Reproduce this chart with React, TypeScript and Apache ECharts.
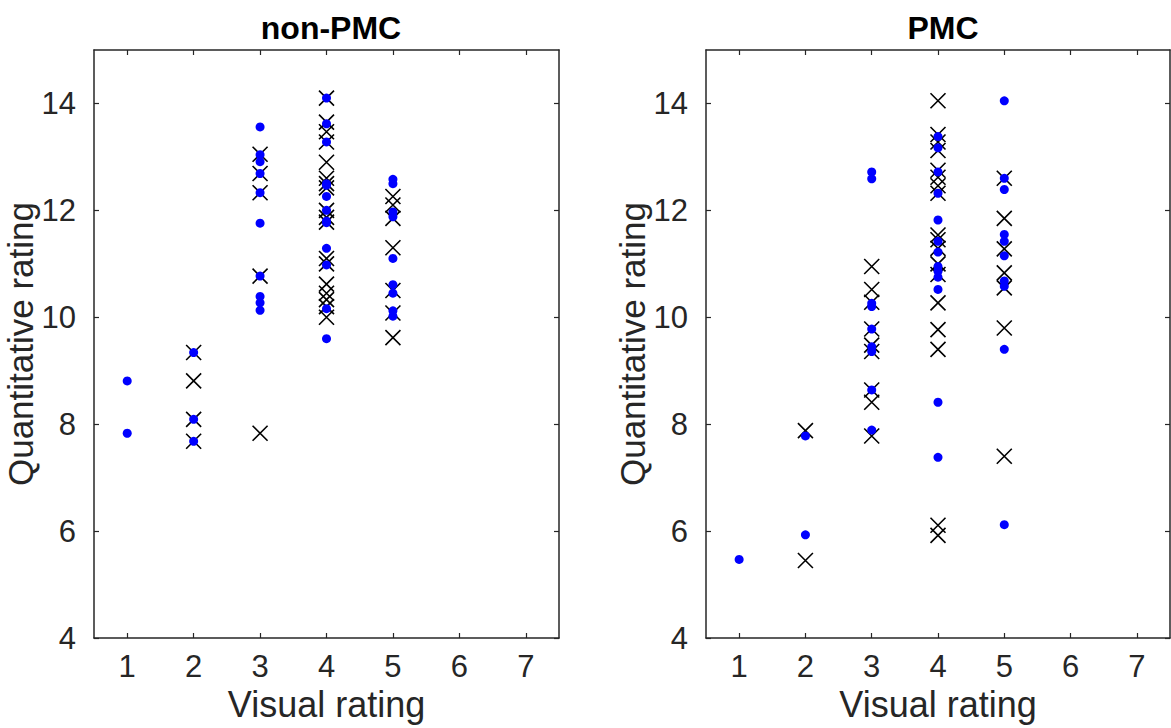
import React, { useEffect, useRef } from "react";
import * as echarts from "echarts";

// Visual rating categories and tick labels
const xTicks = [1, 2, 3, 4, 5, 6, 7];
const yTicks = [4, 6, 8, 10, 12, 14];

// non-PMC: blue dots per visual rating
const npDot1 = [8.81, 7.83];
const npDot2 = [9.34, 8.09, 7.68];
const npDot3 = [13.56, 13.04, 12.91, 12.69, 12.33, 11.76, 10.77, 10.39, 10.27, 10.13];
const npDot4 = [14.1, 13.62, 13.28, 12.5, 12.47, 12.26, 12.0, 11.8, 11.77, 11.29, 10.98, 10.16, 9.6];
const npDot5 = [12.58, 12.5, 11.97, 11.88, 11.1, 10.61, 10.45, 10.12, 10.02];
// non-PMC: crosses per visual rating
const npX2 = [9.34, 8.81, 8.09, 7.68];
const npX3 = [13.05, 12.69, 12.33, 10.77, 7.83];
const npX4 = [14.1, 13.65, 13.47, 13.28, 12.9, 12.6, 12.5, 12.42, 12.0, 11.87, 11.78, 11.1, 11.0, 10.62, 10.45, 10.33, 10.2, 10.0];
const npX5 = [12.26, 12.1, 11.85, 11.3, 10.5, 10.08, 9.62];

// PMC: blue dots per visual rating
const pDot1 = [5.47];
const pDot2 = [7.78, 5.93];
const pDot3 = [12.72, 12.59, 10.26, 10.2, 9.78, 9.45, 9.36, 8.64, 7.89];
const pDot4 = [13.38, 13.17, 12.72, 12.32, 11.82, 11.42, 11.22, 10.95, 10.86, 10.75, 10.52, 8.41, 7.38];
const pDot5 = [14.05, 12.6, 12.39, 11.55, 11.42, 11.15, 10.68, 10.58, 9.4, 6.12];
// PMC: crosses per visual rating
const pX2 = [7.88, 5.45];
const pX3 = [10.95, 10.52, 10.28, 9.78, 9.48, 9.36, 8.64, 8.41, 7.78];
const pX4 = [14.05, 13.42, 13.28, 13.12, 12.75, 12.62, 12.46, 12.32, 11.54, 11.45, 11.29, 11.0, 10.8, 10.27, 9.77, 9.4, 6.11, 5.92];
const pX5 = [12.6, 11.85, 11.28, 10.83, 10.55, 9.8, 7.4];

const titles = ["non-PMC", "PMC"];

const toPairs = (groups: [number, number[]][]) =>
  groups.flatMap(([r, vals]) => vals.map((v) => [r, v]));

const FONT = "Liberation Sans, Arial, Helvetica, sans-serif";
const INK = "#262626";
const CROSS = "path://M0,0L10,10M10,0L0,10";

export default function App() {
  const ref = useRef<HTMLDivElement>(null);

  useEffect(() => {
    if (!ref.current) return;
    const chart = echarts.init(ref.current, null, { renderer: "svg" });

    const npDots = toPairs([[1, npDot1], [2, npDot2], [3, npDot3], [4, npDot4], [5, npDot5]]);
    const npCross = toPairs([[2, npX2], [3, npX3], [4, npX4], [5, npX5]]);
    const pDots = toPairs([[1, pDot1], [2, pDot2], [3, pDot3], [4, pDot4], [5, pDot5]]);
    const pCross = toPairs([[2, pX2], [3, pX3], [4, pX4], [5, pX5]]);

    const grids = [
      { left: 94, top: 50, width: 465, height: 588 },
      { left: 706, top: 50, width: 464, height: 588 },
    ];

    const xAxes: any[] = [];
    const yAxes: any[] = [];
    [0, 1].forEach((g) => {
      const common = {
        gridIndex: g,
        type: "value",
        min: 0.5,
        max: 7.5,
        splitLine: { show: false },
        axisLine: { show: true, onZero: false, lineStyle: { color: INK, width: 1.5 } },
        axisTick: {
          show: true,
          inside: true,
          length: 5,
          customValues: xTicks,
          lineStyle: { color: INK, width: 1.2 },
        },
      };
      xAxes.push({
        ...common,
        position: "bottom",
        name: "Visual rating",
        nameLocation: "middle",
        nameGap: 46,
        nameTextStyle: { fontFamily: FONT, fontSize: 36, color: INK },
        axisLabel: {
          show: true,
          customValues: xTicks,
          margin: 13,
          fontFamily: FONT,
          fontSize: 31,
          color: INK,
        },
      });
      xAxes.push({
        ...common,
        position: "top",
        axisLabel: { show: false },
      });
      const ycommon = {
        gridIndex: g,
        type: "value",
        min: 4,
        max: 15,
        splitLine: { show: false },
        axisLine: { show: true, onZero: false, lineStyle: { color: INK, width: 1.5 } },
        axisTick: {
          show: true,
          inside: true,
          length: 5,
          customValues: yTicks,
          lineStyle: { color: INK, width: 1.2 },
        },
      };
      yAxes.push({
        ...ycommon,
        position: "left",
        name: "Quantitative rating",
        nameLocation: "middle",
        nameGap: 50,
        nameTextStyle: { fontFamily: FONT, fontSize: 35, color: INK },
        axisLabel: {
          show: true,
          customValues: yTicks,
          margin: 18,
          fontFamily: FONT,
          fontSize: 31,
          color: INK,
        },
      });
      yAxes.push({
        ...ycommon,
        position: "right",
        axisLabel: { show: false },
      });
    });

    const crossSeries = (g: number, data: number[][]) => ({
      type: "scatter",
      xAxisIndex: g * 2,
      yAxisIndex: g * 2,
      data,
      symbol: CROSS,
      symbolSize: 15,
      itemStyle: { color: "rgba(0,0,0,0)", borderColor: "#000000", borderWidth: 1.6, opacity: 1 },
      z: 2,
    });
    const dotSeries = (g: number, data: number[][]) => ({
      type: "scatter",
      xAxisIndex: g * 2,
      yAxisIndex: g * 2,
      data,
      symbol: "circle",
      symbolSize: 9,
      itemStyle: { color: "#0000ff", opacity: 1 },
      z: 3,
    });

    chart.setOption({
      animation: false,
      backgroundColor: "#ffffff",
      title: titles.map((t, i) => ({
        text: t,
        left: i === 0 ? 326 : 938,
        top: 7,
        textAlign: "center",
        textStyle: { fontFamily: FONT, fontSize: 32, fontWeight: "bold", color: "#000000" },
      })),
      grid: grids,
      xAxis: xAxes,
      yAxis: yAxes,
      series: [
        crossSeries(0, npCross),
        dotSeries(0, npDots),
        crossSeries(1, pCross),
        dotSeries(1, pDots),
      ],
    });

    return () => chart.dispose();
  }, []);

  return (
    <div
      ref={ref}
      style={{ position: "absolute", left: 0, top: 0, width: 1171, height: 728 }}
    />
  );
}
